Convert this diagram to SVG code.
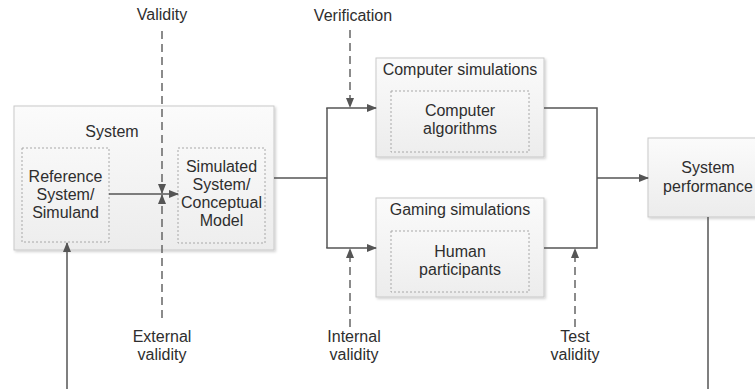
<svg xmlns="http://www.w3.org/2000/svg" width="755" height="389" viewBox="0 0 755 389">
<style>
  text { font-family: "Liberation Sans", Arial, sans-serif; font-size: 16px; fill: #2e2e2e; text-anchor: middle; }
  .box { fill: url(#g); stroke: #c9c9c9; stroke-width: 1; filter: url(#sh); }
  .inner { fill: url(#g2); stroke: #a8a8a8; stroke-width: 1; stroke-dasharray: 2 2; }
  .ln { fill: none; stroke: #555; stroke-width: 1.5; }
  .dash { fill: none; stroke: #666; stroke-width: 1.5; stroke-dasharray: 8 5; }
</style>
<defs>
  <linearGradient id="g" x1="0" y1="0" x2="0" y2="1">
    <stop offset="0" stop-color="#fbfbfb"/>
    <stop offset="1" stop-color="#ececec"/>
  </linearGradient>
  <linearGradient id="g2" x1="0" y1="0" x2="0" y2="1">
    <stop offset="0" stop-color="#f8f8f8"/>
    <stop offset="1" stop-color="#eeeeee"/>
  </linearGradient>
  <filter id="sh" x="-10%" y="-10%" width="120%" height="130%">
    <feDropShadow dx="1.5" dy="1.5" stdDeviation="1.2" flood-color="#000" flood-opacity="0.18"/>
  </filter>
  <marker id="ah" markerWidth="10" markerHeight="8" refX="9" refY="4" orient="auto" markerUnits="userSpaceOnUse">
    <path d="M0,0 L10,4 L0,8 Z" fill="#555"/>
  </marker>
</defs>

<g id="system">
  <rect class="box" x="14" y="106" width="260" height="144"/>
  <text x="112" y="137">System</text>
</g>
<g id="reference">
  <rect class="inner" x="22" y="148" width="87" height="94"/>
  <text x="65.5" y="182">Reference</text>
  <text x="65.5" y="200">System/</text>
  <text x="65.5" y="218">Simuland</text>
</g>
<g id="simulated">
  <rect class="inner" x="178" y="148" width="87" height="95"/>
  <text x="221.5" y="172">Simulated</text>
  <text x="221.5" y="190">System/</text>
  <text x="221.5" y="208">Conceptual</text>
  <text x="221.5" y="226">Model</text>
</g>
<g id="computer-simulations">
  <rect class="box" x="376" y="58" width="168" height="99"/>
  <text x="460" y="75">Computer simulations</text>
</g>
<g id="computer-algorithms">
  <rect class="inner" x="391" y="91" width="138" height="61"/>
  <text x="460" y="116">Computer</text>
  <text x="460" y="134">algorithms</text>
</g>
<g id="gaming-simulations">
  <rect class="box" x="376" y="198" width="168" height="99"/>
  <text x="460" y="215">Gaming simulations</text>
</g>
<g id="human-participants">
  <rect class="inner" x="391" y="231" width="138" height="61"/>
  <text x="460" y="257">Human</text>
  <text x="460" y="275">participants</text>
</g>
<g id="system-performance">
  <rect class="box" x="648" y="138" width="122" height="79"/>
  <text x="708" y="173">System</text>
  <text x="708" y="192">performance</text>
</g>

<g id="labels">
  <text x="162" y="20">Validity</text>
  <text x="162" y="342">External</text>
  <text x="162" y="360">validity</text>
  <text x="353" y="21">Verification</text>
  <text x="354" y="342">Internal</text>
  <text x="354" y="360">validity</text>
  <text x="575" y="342">Test</text>
  <text x="575" y="360">validity</text>
</g>

<g id="connectors">
  <line class="ln" x1="109" y1="194" x2="178" y2="194" marker-end="url(#ah)"/>
  <line class="ln" x1="274" y1="178" x2="327" y2="178"/>
  <line class="ln" x1="327" y1="108" x2="327" y2="248"/>
  <line class="ln" x1="326.25" y1="108" x2="376" y2="108" marker-end="url(#ah)"/>
  <line class="ln" x1="326.25" y1="248" x2="376" y2="248" marker-end="url(#ah)"/>
  <polyline class="ln" points="544,108 597,108 597,248 544,248"/>
  <line class="ln" x1="597" y1="178" x2="648" y2="178" marker-end="url(#ah)"/>
  <line class="ln" x1="708" y1="217" x2="708" y2="389"/>
  <line class="ln" x1="67" y1="389" x2="67" y2="243" marker-end="url(#ah)"/>
  <line class="dash" x1="162" y1="31" x2="162" y2="193" marker-end="url(#ah)"/>
  <line class="dash" x1="162" y1="318" x2="162" y2="195" marker-end="url(#ah)"/>
  <line class="dash" x1="350" y1="30" x2="350" y2="107" marker-end="url(#ah)"/>
  <line class="dash" x1="350" y1="327" x2="350" y2="249" marker-end="url(#ah)"/>
  <line class="dash" x1="575" y1="327" x2="575" y2="249" marker-end="url(#ah)"/>
</g>
</svg>
